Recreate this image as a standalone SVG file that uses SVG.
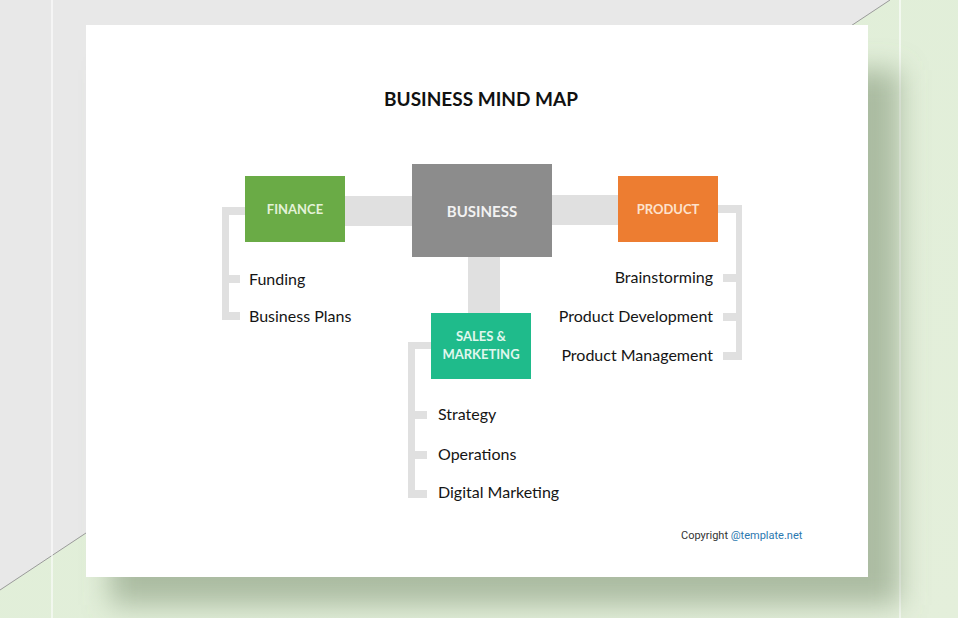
<svg xmlns="http://www.w3.org/2000/svg" width="958" height="618" viewBox="0 0 958 618">
  <defs>
    <linearGradient id="greenBg" x1="0" y1="0" x2="1" y2="1">
      <stop offset="0" stop-color="#dfeed7"/>
      <stop offset="1" stop-color="#e4efdb"/>
    </linearGradient>
    <filter id="shadow" x="-20%" y="-20%" width="140%" height="140%">
      <feGaussianBlur stdDeviation="14"/>
    </filter>
    <style>
      .bar { fill: #e0e0e0; }
      .boxlabel { font-family: Lato, "Liberation Sans", sans-serif; font-weight: bold; text-anchor: middle; }
      .item { font-family: Lato, "Liberation Sans", sans-serif; font-size: 16px; fill: #151515; }
      .right { text-anchor: end; }
    </style>
  </defs>

  <!-- background -->
  <rect x="0" y="0" width="958" height="618" fill="url(#greenBg)"/>
  <polygon points="0,0 890,0 0,590" fill="#e8e8e8"/>
  <line x1="890" y1="0" x2="0" y2="590" stroke="#9a9a9a" stroke-width="1"/>
  <line x1="52" y1="0" x2="52" y2="618" stroke="#ffffff" stroke-opacity="0.55" stroke-width="2"/>
  <line x1="900" y1="0" x2="900" y2="618" stroke="#ffffff" stroke-opacity="0.6" stroke-width="2"/>

  <!-- card shadow -->
  <rect x="110" y="70" width="790" height="535" fill="#7d9272" fill-opacity="0.55" filter="url(#shadow)"/>
  <!-- card -->
  <rect x="86" y="25" width="782" height="552" fill="#ffffff"/>

  <!-- title -->
  <text x="481" y="106" text-anchor="middle" font-family="Lato, 'Liberation Sans', sans-serif" font-weight="bold" font-size="19" fill="#111111">BUSINESS MIND MAP</text>

  <!-- connectors -->
  <g id="connectors">
    <rect class="bar" x="345" y="196" width="67" height="30"/>
    <rect class="bar" x="552" y="195" width="66" height="30"/>
    <rect class="bar" x="468" y="257" width="32" height="56"/>
    <!-- finance bracket -->
    <rect class="bar" x="222" y="207" width="23" height="8"/>
    <rect class="bar" x="222" y="207" width="7" height="113"/>
    <rect class="bar" x="222" y="275" width="18" height="8"/>
    <rect class="bar" x="222" y="312" width="18" height="8"/>
    <!-- product bracket -->
    <rect class="bar" x="718" y="205" width="24" height="8"/>
    <rect class="bar" x="736" y="205" width="6" height="155"/>
    <rect class="bar" x="723" y="274" width="19" height="8"/>
    <rect class="bar" x="723" y="313" width="19" height="8"/>
    <rect class="bar" x="723" y="352" width="19" height="8"/>
    <!-- sales bracket -->
    <rect class="bar" x="408" y="342" width="23" height="7"/>
    <rect class="bar" x="408" y="342" width="7" height="156"/>
    <rect class="bar" x="408" y="411" width="19" height="8"/>
    <rect class="bar" x="408" y="451" width="19" height="8"/>
    <rect class="bar" x="408" y="490" width="19" height="8"/>
  </g>

  <!-- nodes -->
  <g id="business">
    <rect x="412" y="164" width="140" height="93" fill="#8c8c8c"/>
    <text class="boxlabel" x="482" y="217" font-size="15" fill="#f2f2f2">BUSINESS</text>
  </g>
  <g id="finance">
    <rect x="245" y="176" width="100" height="66" fill="#6aab46"/>
    <text class="boxlabel" x="295" y="214" font-size="13" fill="#e4f2d8">FINANCE</text>
  </g>
  <g id="product">
    <rect x="618" y="176" width="100" height="66" fill="#ed7d31"/>
    <text class="boxlabel" x="668" y="214" font-size="13" fill="#fde2cc">PRODUCT</text>
  </g>
  <g id="sales">
    <rect x="431" y="313" width="100" height="66" fill="#1fbb8b"/>
    <text class="boxlabel" x="481" y="341" font-size="13" fill="#e0f7ee">SALES &amp;</text>
    <text class="boxlabel" x="481" y="359" font-size="13" fill="#e0f7ee">MARKETING</text>
  </g>

  <g id="finance-items">
    <text class="item" x="249" y="285">Funding</text>
    <text class="item" x="249" y="322">Business Plans</text>
  </g>
  <g id="product-items">
    <text class="item right" x="713" y="283">Brainstorming</text>
    <text class="item right" x="713" y="322">Product Development</text>
    <text class="item right" x="713" y="361">Product Management</text>
  </g>
  <g id="sales-items">
    <text class="item" x="438" y="420">Strategy</text>
    <text class="item" x="438" y="460">Operations</text>
    <text class="item" x="438" y="498">Digital Marketing</text>
  </g>

  <!-- copyright -->
  <text x="681" y="539" font-family="Roboto, 'Liberation Sans', sans-serif" font-size="11" fill="#333333">Copyright <tspan fill="#2b78b0">@template.net</tspan></text>
</svg>
